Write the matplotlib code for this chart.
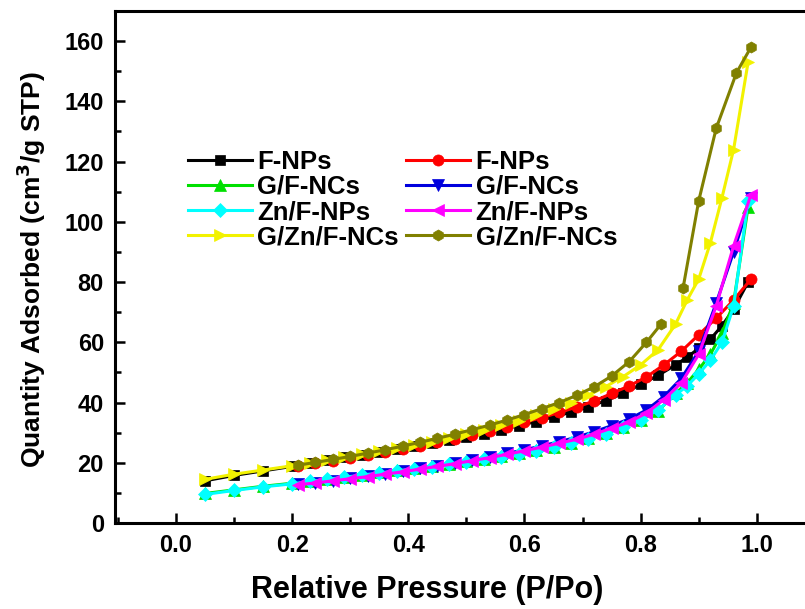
import matplotlib
matplotlib.use("Agg")
import matplotlib.pyplot as plt
import numpy as np
from matplotlib.ticker import MultipleLocator

# ---------------- data ----------------
p_ads = [0.05, 0.10, 0.15, 0.20, 0.23, 0.26, 0.29, 0.32, 0.35, 0.38, 0.41, 0.44,
         0.47, 0.50, 0.53, 0.56, 0.59, 0.62, 0.65, 0.68, 0.71, 0.74, 0.77, 0.80,
         0.83, 0.86, 0.88, 0.90, 0.92, 0.94, 0.96, 0.985]
p_des = [0.99, 0.96, 0.93, 0.90, 0.87, 0.84, 0.81, 0.78, 0.75, 0.72, 0.69, 0.66,
         0.63, 0.60, 0.57, 0.54, 0.51, 0.48, 0.45, 0.42, 0.39, 0.36, 0.33, 0.30,
         0.27, 0.24, 0.21]

fnps_ads = [14.0, 15.8, 17.3, 18.8, 19.8, 20.8, 21.8, 22.7, 23.6, 24.6, 25.5, 26.5,
            27.5, 28.6, 29.7, 31.0, 32.3, 33.7, 35.2, 36.8, 38.6, 40.6, 43.0, 46.0,
            49.0, 52.5, 55.0, 58.0, 61.0, 65.5, 71.0, 80.0]
fnps_des = [81.0, 74.0, 68.0, 62.5, 57.0, 52.5, 48.5, 45.5, 43.0, 40.5, 38.5, 36.7,
            35.0, 33.5, 32.0, 30.6, 29.3, 28.0, 26.8, 25.6, 24.5, 23.5, 22.5, 21.6,
            20.7, 19.8, 19.0]
gf_ads = [9.8, 11.0, 12.2, 13.2, 14.0, 14.7, 15.4, 16.1, 16.8, 17.5, 18.2, 18.9,
          19.7, 20.5, 21.3, 22.2, 23.2, 24.2, 25.4, 26.7, 28.2, 29.9, 31.9, 34.2,
          37.2, 43.0, 46.5, 51.0, 56.0, 63.0, 73.0, 105.0]
gf_des = [108.0, 90.0, 73.0, 57.0, 48.0, 42.0, 37.5, 34.5, 32.3, 30.3, 28.5, 27.0,
          25.6, 24.3, 23.1, 22.0, 20.9, 19.9, 19.0, 18.1, 17.2, 16.4, 15.6, 14.8,
          14.1, 13.4, 12.8]
znf_ads = [9.5, 10.8, 12.0, 13.0, 13.8, 14.5, 15.2, 15.9, 16.6, 17.3, 18.0, 18.7,
           19.5, 20.3, 21.1, 22.0, 23.0, 24.0, 25.2, 26.5, 28.0, 29.7, 31.8, 34.3,
           37.5, 42.5, 45.5, 49.5, 54.0, 60.0, 72.0, 107.0]
znf_des = [109.0, 92.0, 72.0, 56.0, 46.5, 41.0, 36.5, 33.5, 31.5, 29.5, 27.8, 26.5,
           25.2, 24.0, 22.8, 21.7, 20.7, 19.7, 18.8, 17.9, 17.0, 16.2, 15.4, 14.7,
           14.0, 13.3, 12.7]
gznf_ads = [14.5, 16.2, 17.6, 19.0, 19.8, 20.8, 21.8, 22.8, 23.8, 24.8, 25.9, 27.0,
            28.2, 29.5, 30.9, 32.4, 34.0, 35.8, 37.8, 40.0, 42.5, 45.3, 48.6, 52.5,
            57.5, 66.0, 74.0, 81.0, 93.0, 108.0, 124.0, 153.0]
gznf_des_p = [0.99, 0.965, 0.93, 0.90, 0.873, 0.855, 0.835, 0.81, 0.78, 0.75, 0.72,
              0.69, 0.66, 0.63, 0.60, 0.57, 0.54, 0.51, 0.48, 0.45, 0.42, 0.39,
              0.36, 0.33, 0.30, 0.27, 0.24, 0.21]
gznf_des = [158.0, 149.5, 131.0, 107.0, 78.0, np.nan, 66.0, 60.0, 53.5, 48.8, 45.2,
            42.4, 40.0, 38.0, 36.0, 34.2, 32.5, 31.0, 29.5, 28.1, 26.8, 25.5,
            24.3, 23.2, 22.1, 21.1, 20.1, 19.2]

series = [
    ("F-NPs", p_ads, fnps_ads, "#000000", "s"),
    ("F-NPs", p_des, fnps_des, "#ff0000", "o"),
    ("G/F-NCs", p_ads, gf_ads, "#00e000", "^"),
    ("G/F-NCs", p_des, gf_des, "#0000dd", "v"),
    ("Zn/F-NPs", p_ads, znf_ads, "#00ffff", "D"),
    ("Zn/F-NPs", p_des, znf_des, "#ff00ff", "<"),
    ("G/Zn/F-NCs", p_ads, gznf_ads, "#f2f200", ">"),
    ("G/Zn/F-NCs", gznf_des_p, gznf_des, "#808000", "h"),
]

# ---------------- figure ----------------
plt.rcParams['font.family'] = ['Liberation Sans', 'DejaVu Sans']
plt.rcParams['font.weight'] = 'bold'
plt.rcParams['mathtext.default'] = 'bf'

W, H = 805, 609
fig = plt.figure(figsize=(W / 100, H / 100), dpi=100)
left, right, bottom, top = 115, 812, 523, 11
ax = fig.add_axes([left / W, 1 - bottom / H, (right - left) / W, (bottom - top) / H])

handles = []
for label, x, y, c, m in series:
    ms = 7 if m in ("D", "s") else 8
    h, = ax.plot(x, y, color=c, marker=m, markersize=ms, linewidth=2.2,
                 markeredgewidth=0.5, markeredgecolor=c, label=label)
    handles.append(h)

ax.set_xlim(-0.105, 1.095)
ax.set_ylim(0, 170)
ax.xaxis.set_major_locator(MultipleLocator(0.2))
ax.xaxis.set_minor_locator(MultipleLocator(0.1))
ax.yaxis.set_major_locator(MultipleLocator(20))
ax.yaxis.set_minor_locator(MultipleLocator(10))
ax.tick_params(which='both', direction='in', width=1.8, top=False, right=False,
               labelsize=17, pad=8)
ax.tick_params(which='major', length=7)
ax.tick_params(which='minor', length=4)
for lab in ax.get_xticklabels() + ax.get_yticklabels():
    lab.set_fontweight('bold')
for s in ax.spines.values():
    s.set_linewidth(2.2)

ax.set_xlabel("Relative Pressure (P/Po)", fontsize=22, fontweight='bold')
ax.xaxis.set_label_coords((427 - left) / (right - left), -(590 - bottom) / (bottom - top),
                          transform=ax.transAxes)
ax.xaxis.label.set_va('center')
ax.set_ylabel("Quantity Adsorbed (cm$^3$/g STP)", fontsize=19, fontweight='bold')
ax.yaxis.set_label_coords(-(left - 31) / (right - left), (bottom - 269) / (bottom - top),
                          transform=ax.transAxes)
ax.yaxis.label.set_va('center')

# row-wise legend order: col 1 = adsorption, col 2 = desorption
order = [0, 2, 4, 6, 1, 3, 5, 7]
leg = ax.legend([handles[i] for i in order], [series[i][0] for i in order],
                ncol=2, frameon=False, fontsize=18.5, handlelength=2.5,
                handletextpad=0.2, columnspacing=0.3, labelspacing=0.05,
                loc='upper left', bbox_to_anchor=(185 / W, 1 - 147 / H),
                bbox_transform=fig.transFigure, borderpad=0.1, borderaxespad=0)

fig.savefig("out.png", dpi=100)
